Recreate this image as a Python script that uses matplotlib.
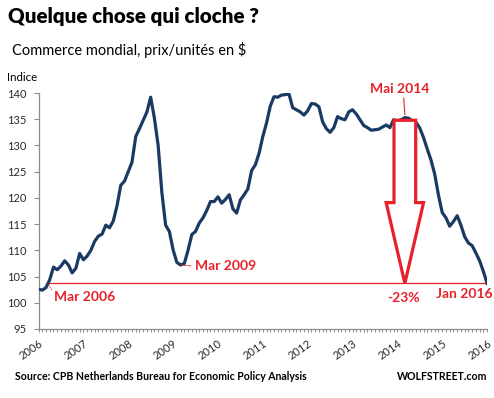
import numpy as np
import matplotlib
matplotlib.use("Agg")
import matplotlib.pyplot as plt
from matplotlib.patches import Polygon

plt.rcParams['font.family'] = ['Lato', 'DejaVu Sans']

# monthly index, Jan 2006 .. Jan 2016
values = [102.6, 102.4, 102.9, 104.4, 106.8, 106.3, 107.0, 108.0, 107.2, 105.7, 106.6, 109.4,
          108.2, 108.9, 110.0, 111.7, 112.7, 113.1, 114.8, 114.3, 115.6, 118.5, 122.4, 123.2,
          125.0, 126.8, 131.7, 133.2, 134.8, 136.4, 139.2, 135.2, 130.0, 121.0, 114.8, 113.6,
          110.1, 107.7, 107.2, 107.5, 110.0, 113.0, 113.6, 115.2, 116.2, 117.6, 119.3, 119.3,
          120.2, 119.0, 119.7, 120.6, 117.9, 117.1, 119.6, 120.6, 121.7, 125.2, 126.3, 128.5,
          131.7, 134.3, 137.5, 139.3, 139.2, 139.6, 139.7, 139.8, 137.2, 136.8, 136.4, 135.8,
          136.6, 138.0, 137.9, 137.4, 134.5, 133.2, 132.5, 133.4, 135.5, 135.1, 134.9, 136.4,
          136.8, 136.0, 134.9, 133.8, 133.4, 132.9, 133.0, 133.1, 133.5, 133.9, 133.4, 134.9,
          134.7, 134.9, 135.3, 135.2, 134.7, 134.4, 133.3, 131.5, 129.3, 127.2, 124.5, 120.5,
          117.2, 116.2, 114.6, 115.5, 116.6, 114.8, 112.6, 111.4, 110.9, 109.5, 108.0, 106.0,
          103.7]
years = list(range(2006, 2017))
months = np.arange(len(values))

navy = '#1B3A63'
red = '#E8202A'
axis_grey = '#8C8C8C'

fig = plt.figure(figsize=(4.94, 3.98), dpi=100)
ax = fig.add_axes([0.078, 0.1734, 0.908, 0.5929])

ax.plot(months, values, color=navy, lw=2.3, solid_joinstyle='round', zorder=3)

ax.set_xlim(0, months[-1])
ax.set_ylim(95, 140)
ax.set_yticks(range(95, 141, 5))
ax.set_xticks(np.arange(0, len(values), 12))
ax.set_xticklabels([str(y) for y in years], rotation=35, ha='right', va='top',
                   rotation_mode='anchor')
ax.set_xticks(months, minor=True)

for s in ['top', 'right']:
    ax.spines[s].set_visible(False)
for s in ['left', 'bottom']:
    ax.spines[s].set_color(axis_grey)
    ax.spines[s].set_linewidth(0.9)
ax.tick_params(axis='y', length=3.5, width=0.8, color=axis_grey, labelsize=8,
               labelcolor='#2a2a2a', pad=5)
ax.tick_params(axis='x', which='both', length=2.5, width=0.7, color=axis_grey,
               labelsize=8, labelcolor='#2a2a2a', pad=4)

# reference line: Mar 2006 .. Jan 2016 at the latest level
i_start = 2
ax.plot([i_start, months[-1]], [values[-1], values[-1]], color=red, lw=0.9, zorder=2)

# big hollow arrow from the 2014 peak down to the Jan 2016 level
i_peak = 96 + int(np.argmax(values[96:108]))
top = values[i_peak] - 0.5
neck = 119.1
tip = values[-1]
sw, hw = 2.9, 5.0
arrow = Polygon([(i_peak - sw, top), (i_peak + sw, top), (i_peak + sw, neck),
                 (i_peak + hw, neck), (i_peak, tip), (i_peak - hw, neck),
                 (i_peak - sw, neck)], closed=True, facecolor='white',
                edgecolor=red, lw=2.3, joinstyle='miter', zorder=4)
ax.add_patch(arrow)

lab = dict(color=red, fontsize=10, fontweight='bold', annotation_clip=False)
ax.annotate('Mar 2006', xy=(i_start + 0.4, values[-1]), xytext=(5, -9.5),
            textcoords='offset points', ha='left', va='center',
            arrowprops=dict(arrowstyle='-', color=red, lw=0.6, ls=':',
                            shrinkA=0, shrinkB=0, relpos=(0, 0.7)), **lab)
ax.annotate('Mar 2009', xy=(38, values[38]), xytext=(10.5, -0.5),
            textcoords='offset points', ha='left', va='center',
            arrowprops=dict(arrowstyle='-', color=red, lw=0.6, ls='--',
                            shrinkA=1, shrinkB=0, relpos=(0, 0.45)), **lab)
ax.annotate('Mai 2014', xy=(i_peak, values[i_peak] + 0.6), xytext=(-3.5, 14),
            textcoords='offset points', ha='center', va='bottom',
            arrowprops=dict(arrowstyle='-', color=red, lw=0.8,
                            shrinkA=0, shrinkB=0, relpos=(0.56, 0)), **lab)
ax.annotate('-23%', xy=(i_peak, tip), xytext=(-1, -10.5),
            textcoords='offset points', ha='center', va='center', **lab)
ax.annotate('Jan 2016', xy=(months[-1], values[-1]), xytext=(-16.5, -7.3),
            textcoords='offset points', ha='center', va='center', **lab)

fig.text(0.016, 0.958, 'Quelque chose qui cloche ?', fontsize=14.8, fontweight='heavy',
         color='black', va='center')
fig.text(0.024, 0.874, 'Commerce mondial, prix/unités en $', fontsize=10.5,
         color='black', va='center')
fig.text(0.014, 0.806, 'Indice', fontsize=8.3, color='black', va='center')
fig.text(0.03, 0.054, 'Source: CPB Netherlands Bureau for Economic Policy Analysis',
         fontsize=7.6, fontweight='bold', color='black', va='center')
fig.text(0.986, 0.054, 'WOLFSTREET.com', fontsize=7.6, fontweight='bold',
         color='black', va='center', ha='right')

fig.savefig('out.png', dpi=100)
